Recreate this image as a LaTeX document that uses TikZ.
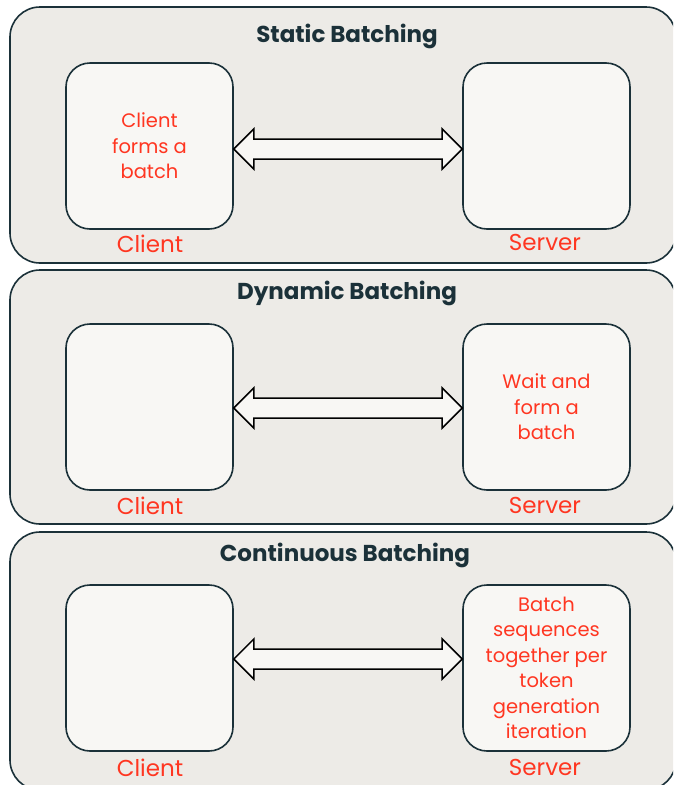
\documentclass[tikz,border=0pt]{standalone}
\usepackage{fontspec}
\setmainfont{Poppins}
\usetikzlibrary{calc}
\definecolor{navy}{HTML}{1B3139}
\definecolor{dbred}{HTML}{FF3621}
\definecolor{panelfill}{HTML}{EDEBE7}
\definecolor{boxfill}{HTML}{F8F7F4}
\tikzset{
  panel/.style={draw=navy, line width=1.6pt, fill=panelfill, rounded corners=30pt, minimum width=666pt, inner sep=0pt},
  hostbox/.style={draw=navy, line width=1.6pt, fill=boxfill, rounded corners=24pt, minimum width=167pt, minimum height=166pt, inner sep=0pt, text=dbred, align=center, font=\fontsize{19.5}{25.5}\selectfont},
  ptitle/.style={text=navy, font=\fontsize{23}{26}\selectfont\bfseries, inner sep=0pt},
  hostlabel/.style={text=dbred, font=\fontsize{23}{26}\selectfont, inner sep=0pt},
  blockarr/.style={draw=black, line width=1.5pt, fill=boxfill, line join=miter}
}
\newcommand\blockarrow[2]{%
  \draw[blockarr] (#1) -- ++(20,-20) -- ++(0,10) -- ($(#2)+(-20,-10)$) -- ++(0,-10) -- (#2) -- ++(-20,20) -- ++(0,-10) -- ($(#1)+(20,10)$) -- ++(0,10) -- cycle;}
\begin{document}
\begin{tikzpicture}[x=1pt,y=-1pt]
\clip (0,0) rectangle (673,785);
\fill[white] (0,0) rectangle (673,785);
% panels
\node[panel, minimum height=256pt] (p1) at (343,135) {};
\node[panel, minimum height=254pt] (p2) at (343,397) {};
\node[panel, minimum height=258pt] (p3) at (343,661) {};
% titles
\node[ptitle] (t1) at (347,36) {Static Batching};
\node[ptitle] (t2) at (347,293) {Dynamic Batching};
\node[ptitle] (t3) at (345,555) {Continuous Batching};
% boxes
\node[hostbox] (c1) at (149.5,146) {Client\\forms a\\batch};
\node[hostbox] (s1) at (546.5,146) {};
\node[hostbox] (c2) at (149.5,407) {};
\node[hostbox] (s2) at (546.5,407) {Wait and\\form a\\batch};
\node[hostbox] (c3) at (149.5,668) {};
\node[hostbox] (s3) at (546.5,668) {Batch\\sequences\\together per\\token\\generation\\iteration};
% labels
\node[hostlabel] (lc1) at (150,244) {Client};
\node[hostlabel] (ls1) at (545,242) {Server};
\node[hostlabel] (lc2) at (150,506) {Client};
\node[hostlabel] (ls2) at (545,505) {Server};
\node[hostlabel] (lc3) at (150,768) {Client};
\node[hostlabel] (ls3) at (545,767) {Server};
% arrows
\coordinate (a1l) at (c1.east |- 0,149);
\coordinate (a1r) at (s1.west |- 0,149);
\coordinate (a2l) at (c2.east |- 0,408);
\coordinate (a2r) at (s2.west |- 0,408);
\coordinate (a3l) at (c3.east |- 0,659);
\coordinate (a3r) at (s3.west |- 0,659);
\blockarrow{a1l}{a1r}
\blockarrow{a2l}{a2r}
\blockarrow{a3l}{a3r}
\end{tikzpicture}
\end{document}
